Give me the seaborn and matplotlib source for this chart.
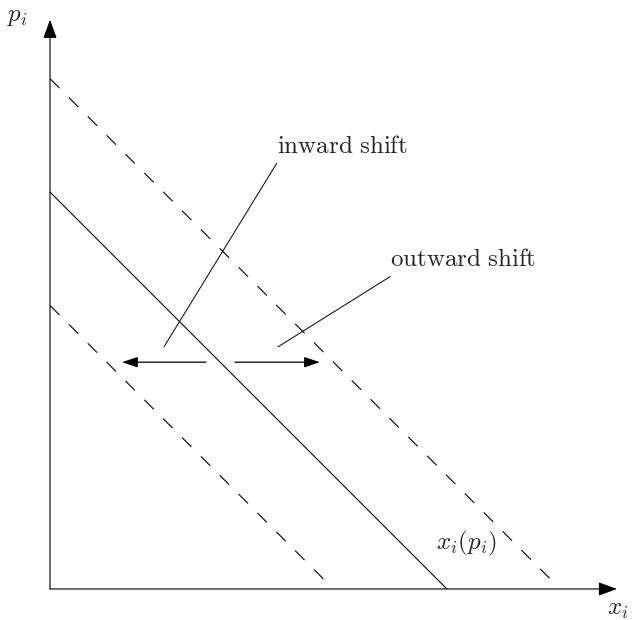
import matplotlib
matplotlib.use("Agg")
import matplotlib.pyplot as plt
import numpy as np
import pandas as pd
import seaborn as sns

sns.set_style("white")
plt.rcParams["mathtext.fontset"] = "cm"
plt.rcParams["font.family"] = ["DejaVu Serif"]

# demand lines x = a - p, drawn from p = a down to p_end
intercepts = [5.0, 7.0, 9.0]
p_ends = [0.16, 0.0, 0.19]
styles = ["shifted", "base", "shifted"]

# shift arrows at p = 4
arrow_p = 4.0
arrow_from = [2.75, 3.26]
arrow_to = [1.27, 4.76]

# labels
label_text = [r"$\mathrm{inward\ shift}$", r"$\mathrm{outward\ shift}$"]
label_pos = [(4.0, 7.6), (6.0, 5.6)]
leader_end = [(2.01, 4.27), (4.02, 4.27)]

rows = []
for i, (a, pe, st) in enumerate(zip(intercepts, p_ends, styles)):
    for p in (a, pe):
        rows.append({"x": a - p, "p": p, "line": i, "style": st})
df = pd.DataFrame(rows)

fig = plt.figure(figsize=(6.4, 6.2), dpi=100)
ax = fig.add_axes([0, 0, 1, 1])

sns.lineplot(data=df, x="x", y="p", units="line", style="style", estimator=None,
             dashes={"base": "", "shifted": (12, 12)}, color="black", lw=0.8,
             sort=False, legend=False, ax=ax)

# axes arrows
axis_head = "-|>,head_length=1.15,head_width=0.42"
ax.annotate("", xy=(0, 10.04), xytext=(0, 0),
            arrowprops=dict(arrowstyle=axis_head, color="black", lw=0.8, shrinkA=0, shrinkB=0))
ax.annotate("", xy=(10.0, 0), xytext=(0, 0),
            arrowprops=dict(arrowstyle=axis_head, color="black", lw=0.8, shrinkA=0, shrinkB=0))

for x0, x1 in zip(arrow_from, arrow_to):
    ax.annotate("", xy=(x1, arrow_p), xytext=(x0, arrow_p),
                arrowprops=dict(arrowstyle="-|>,head_length=0.95,head_width=0.32",
                                color="black", lw=0.9, shrinkA=0, shrinkB=0))

for txt, (tx, ty), (ex, ey) in zip(label_text, label_pos, leader_end):
    ax.text(tx, ty, txt, fontsize=18, ha="left", va="bottom")
    ax.plot([tx, ex], [ty - 0.09, ey], color="black", lw=0.7)

ax.text(6.8, 0.55, r"$x_i(p_i)$", fontsize=18, ha="left", va="bottom")
ax.text(-0.58, 10.09, r"$p_i$", fontsize=18, ha="center", va="center")
ax.text(10.02, -0.36, r"$x_i$", fontsize=18, ha="center", va="center")

ax.set_xlim(-0.882, 10.406)
ax.set_ylim(-0.547, 10.388)
ax.set_axis_off()

fig.savefig("out.png", dpi=100)
